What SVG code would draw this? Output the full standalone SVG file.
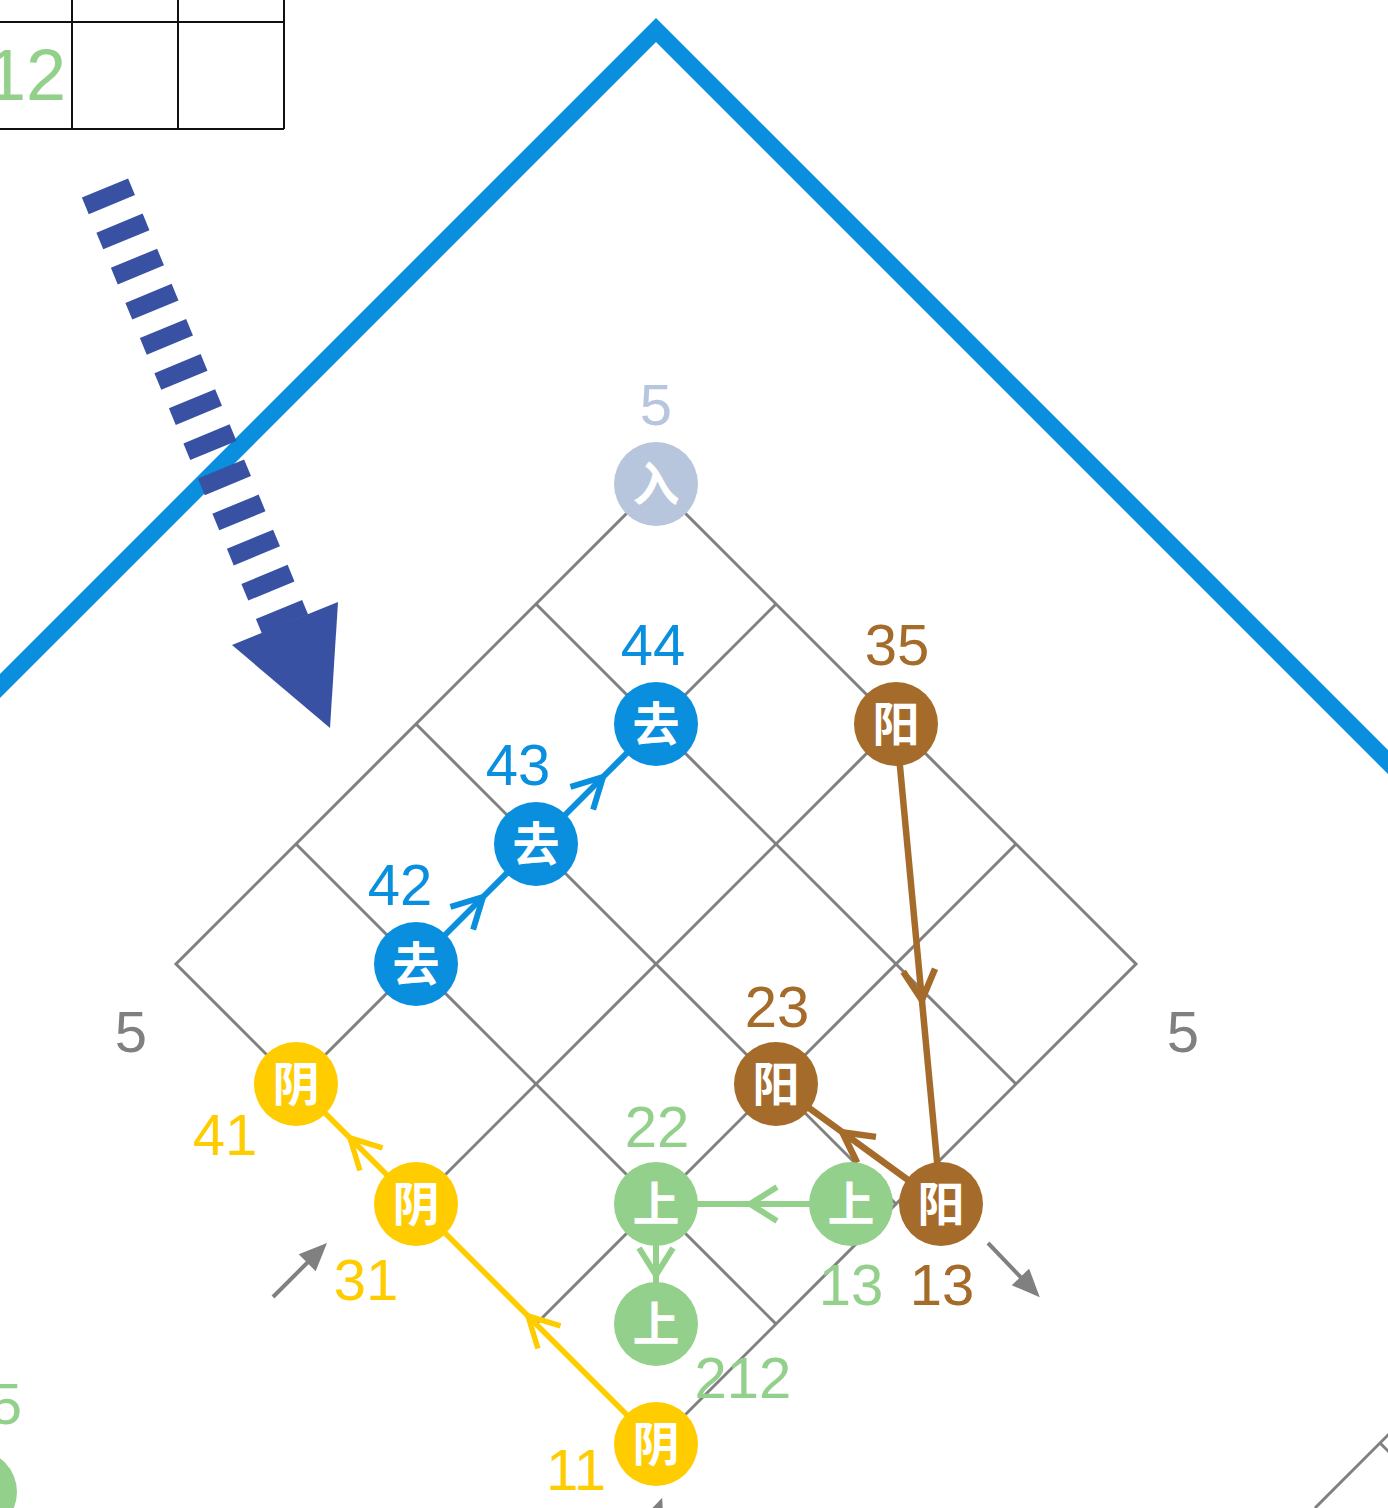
<svg xmlns="http://www.w3.org/2000/svg" width="1388" height="1508" viewBox="0 0 1388 1508">
<defs>
<style>
.grid{stroke:#808080;stroke-width:3;fill:none}
.tbl{stroke:#111;stroke-width:2;fill:none}
.num{font-family:"Liberation Sans",Arial,sans-serif;font-size:58px;text-anchor:middle}
.cj{font-family:"Noto Sans CJK SC","Noto Sans CJK JP",sans-serif;font-size:47px;font-weight:bold;fill:#fff;text-anchor:middle}
.cB{fill:#0a8fdf}.cN{fill:#a56b2a}.cY{fill:#ffcc00}.cG{fill:#93d08b}.cI{fill:#b7c6dc}.cK{fill:#808080}
.eB{stroke:#0a8fdf;stroke-width:6;fill:none;marker-mid:url(#chB)}
.eN{stroke:#a56b2a;stroke-width:6.5;fill:none;marker-mid:url(#chN)}
.eG{stroke:#93d08b;stroke-width:6;fill:none;marker-mid:url(#chG)}
.eY{stroke:#ffcc00;stroke-width:5.5;fill:none;marker-mid:url(#chY)}
.ga{stroke:#808080;stroke-width:4;fill:none;marker-end:url(#gh)}
</style>
<marker id="chB" markerUnits="userSpaceOnUse" viewBox="-40 -25 50 50" markerWidth="50" markerHeight="50" refX="0" refY="0" orient="auto" overflow="visible"><path d="M-30,-16 L0,0 L-30,16" fill="none" stroke="#0a8fdf" stroke-width="6"/></marker>
<marker id="chN" markerUnits="userSpaceOnUse" viewBox="-40 -25 50 50" markerWidth="50" markerHeight="50" refX="0" refY="0" orient="auto" overflow="visible"><path d="M-30,-16 L0,0 L-30,16" fill="none" stroke="#a56b2a" stroke-width="6.5"/></marker>
<marker id="chG" markerUnits="userSpaceOnUse" viewBox="-40 -25 50 50" markerWidth="50" markerHeight="50" refX="0" refY="0" orient="auto" overflow="visible"><path d="M-27,-17 L0,0 L-27,17" fill="none" stroke="#93d08b" stroke-width="6"/></marker>
<marker id="chY" markerUnits="userSpaceOnUse" viewBox="-40 -25 50 50" markerWidth="50" markerHeight="50" refX="0" refY="0" orient="auto" overflow="visible"><path d="M-30,-16 L0,0 L-30,16" fill="none" stroke="#ffcc00" stroke-width="5.5"/></marker>
<marker id="gh" markerUnits="userSpaceOnUse" viewBox="-30 -14 36 28" markerWidth="36" markerHeight="28" refX="-12" refY="0" orient="auto" overflow="visible"><path d="M-28,-12 L0,0 L-28,12 z" fill="#808080"/></marker>
</defs>
<rect width="1388" height="1508" fill="#fff"/>

<g id="table">
<line class="tbl" x1="0" y1="22" x2="284" y2="22"/>
<line class="tbl" x1="0" y1="129" x2="284" y2="129"/>
<line class="tbl" x1="72" y1="0" x2="72" y2="129"/>
<line class="tbl" x1="178" y1="0" x2="178" y2="129"/>
<line class="tbl" x1="284" y1="0" x2="284" y2="129"/>
<text class="num cG" x="66" y="100" style="font-size:72px;text-anchor:end">12</text>
</g>

<g id="roof">
<polyline points="-10,696 656,30 1398,772" fill="none" stroke="#0a8fdf" stroke-width="17" stroke-linejoin="miter"/>
</g>

<g id="flow-arrow">
<line x1="105" y1="188" x2="285" y2="624" stroke="#3951a3" stroke-width="50" stroke-dasharray="18 20"/>
<polygon points="232,645 338,602 330,728" fill="#3951a3"/>
</g>

<g id="grid">
<polygon class="grid" points="656,484 1136,964 656,1444 176,964"/>
<line class="grid" x1="536" y1="604" x2="1016" y2="1084"/>
<line class="grid" x1="416" y1="724" x2="896" y2="1204"/>
<line class="grid" x1="296" y1="844" x2="776" y2="1324"/>
<line class="grid" x1="776" y1="604" x2="296" y2="1084"/>
<line class="grid" x1="896" y1="724" x2="416" y2="1204"/>
<line class="grid" x1="1016" y1="844" x2="536" y2="1324"/>
<line class="grid" x1="1315" y1="1508" x2="1390" y2="1433"/>
<line class="grid" x1="1380" y1="1443" x2="1390" y2="1453"/>
</g>

<g id="connectors">
<path class="eB" d="M416,964 L483,897 L536,844"/>
<path class="eB" d="M536,844 L603,777 L656,724"/>
<path class="eN" d="M896,724 L921.9,1000 L941,1204"/>
<path class="eN" d="M941,1204 L842.3,1132.2 L776,1084"/>
<path class="eG" d="M851,1204 L750,1204 L656,1204"/>
<path class="eG" d="M656,1204 L656,1275 L656,1324"/>
<path class="eY" d="M656,1444 L528,1316 L416,1204"/>
<path class="eY" d="M416,1204 L350,1138 L296,1084"/>
<line class="ga" x1="273" y1="1297" x2="318.5" y2="1251.5"/>
<line class="ga" x1="988" y1="1243" x2="1031.5" y2="1288.5"/>
<line class="ga" x1="640" y1="1558" x2="658" y2="1509"/>
</g>

<g id="n-in"><circle class="cI" cx="656" cy="484" r="42"/><text class="cj" x="656" y="501">入</text><text class="num cI" x="656" y="425">5</text></g>
<g id="n-qu44"><circle class="cB" cx="656" cy="724" r="42"/><text class="cj" x="656" y="741">去</text><text class="num cB" x="653" y="665">44</text></g>
<g id="n-qu43"><circle class="cB" cx="536" cy="844" r="42"/><text class="cj" x="536" y="861">去</text><text class="num cB" x="518" y="785">43</text></g>
<g id="n-qu42"><circle class="cB" cx="416" cy="964" r="42"/><text class="cj" x="416" y="981">去</text><text class="num cB" x="400" y="905">42</text></g>
<g id="n-yang35"><circle class="cN" cx="896" cy="724" r="42"/><text class="cj" x="896" y="741">阳</text><text class="num cN" x="897" y="665">35</text></g>
<g id="n-yang23"><circle class="cN" cx="776" cy="1084" r="42"/><text class="cj" x="776" y="1101">阳</text><text class="num cN" x="777" y="1027">23</text></g>
<g id="n-shang22"><circle class="cG" cx="656" cy="1204" r="42"/><text class="cj" x="656" y="1221">上</text><text class="num cG" x="657" y="1147">22</text></g>
<g id="n-shang13"><circle class="cG" cx="851" cy="1204" r="42"/><text class="cj" x="851" y="1221">上</text><text class="num cG" x="851" y="1305">13</text></g>
<g id="n-yang13"><circle class="cN" cx="941" cy="1204" r="42"/><text class="cj" x="941" y="1221">阳</text><text class="num cN" x="942" y="1305">13</text></g>
<g id="n-shang212"><circle class="cG" cx="656" cy="1324" r="42"/><text class="cj" x="656" y="1341">上</text><text class="num cG" x="743" y="1398">212</text></g>
<g id="n-yin41"><circle class="cY" cx="296" cy="1084" r="42"/><text class="cj" x="296" y="1101">阴</text><text class="num cY" x="225" y="1155">41</text></g>
<g id="n-yin31"><circle class="cY" cx="416" cy="1204" r="42"/><text class="cj" x="416" y="1221">阴</text><text class="num cY" x="366" y="1300">31</text></g>
<g id="n-yin11"><circle class="cY" cx="656" cy="1444" r="42"/><text class="cj" x="656" y="1461">阴</text><text class="num cY" x="576" y="1490">11</text></g>
<g id="n-edge"><circle class="cG" cx="-25" cy="1492" r="42"/><text class="cj" x="-25" y="1509">上</text><text class="num cG" x="22" y="1424" style="text-anchor:end">5</text></g>

<g id="side-labels">
<text class="num cK" x="131" y="1052">5</text>
<text class="num cK" x="1183" y="1052">5</text>
</g>
</svg>
